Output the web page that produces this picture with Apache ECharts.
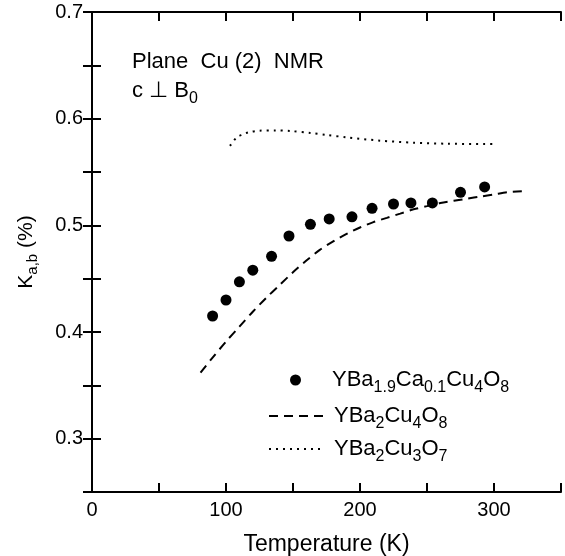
<!DOCTYPE html>
<html>
<head>
<meta charset="utf-8">
<script src="https://cdn.jsdelivr.net/npm/echarts@6/dist/echarts.min.js"></script>
<style>
html,body{margin:0;padding:0;background:#fff;}
#chart{width:565px;height:556px;}
</style>
</head>
<body>
<div id="chart"></div>
<script>
// ---- Data ----
var xTicks = [0, 100, 200, 300];
var yTicks = [0.3, 0.4, 0.5, 0.6, 0.7];

// YBa1.9Ca0.1Cu4O8 (filled circles)
var caT = [90, 100, 110, 120, 134, 147, 163, 177, 194, 209, 225, 238, 254, 275, 293];
var caK = [0.415, 0.430, 0.447, 0.458, 0.471, 0.490, 0.501, 0.506, 0.508, 0.516, 0.520, 0.521, 0.521, 0.531, 0.536];

// YBa2Cu4O8 (dashed)
var y124T = [81, 90, 100, 110, 120, 130, 140, 150, 160, 170, 180, 190, 200, 210, 220, 230, 240, 250, 260, 270, 280, 290, 300, 310, 322];
var y124K = [0.362, 0.376, 0.391, 0.405, 0.419, 0.432, 0.444, 0.456, 0.467, 0.477, 0.485, 0.492, 0.498, 0.503, 0.507, 0.511, 0.515, 0.518, 0.521, 0.523, 0.525, 0.527, 0.529, 0.531, 0.532];

// YBa2Cu3O7 (dotted)
var y123T = [103, 108, 112, 117, 125, 137, 148, 163, 175, 190, 215, 240, 265, 302];
var y123K = [0.5745, 0.5825, 0.585, 0.5872, 0.5887, 0.589, 0.5884, 0.5866, 0.5848, 0.5825, 0.5794, 0.5775, 0.5765, 0.5762];

var names = ['YBa1.9Ca0.1Cu4O8', 'YBa2Cu4O8', 'YBa2Cu3O7'];
var richNames = {
  'YBa1.9Ca0.1Cu4O8': '{m|YBa}{s|1.9}{m|Ca}{s|0.1}{m|Cu}{s|4}{m|O}{s|8}',
  'YBa2Cu4O8': '{m|YBa}{s|2}{m|Cu}{s|4}{m|O}{s|8}',
  'YBa2Cu3O7': '{m|YBa}{s|2}{m|Cu}{s|3}{m|O}{s|7}'
};

function zip(a, b) { return a.map(function (v, i) { return [v, b[i]]; }); }

var FONT = 'Liberation Sans';
var rich = {
  m: { fontSize: 22, fontFamily: FONT, color: '#000', lineHeight: 24, verticalAlign: 'middle' },
  s: { fontSize: 16, fontFamily: FONT, color: '#000', lineHeight: 14, verticalAlign: 'top', padding: [12, 0, 0, 0] }
};

function legendAt(name, centerY, extra) {
  return Object.assign({
    data: [name],
    orient: 'vertical',
    left: 268,
    top: centerY - 11,
    padding: 0,
    itemWidth: 54,
    itemHeight: 11,
    selectedMode: false,
    formatter: function (n) { return richNames[n]; },
    textStyle: { rich: rich, padding: [0, 0, 0, 6] }
  }, extra || {});
}

var chart = echarts.init(document.getElementById('chart'));
var axisLine = { lineStyle: { color: '#000', width: 2 } };
var axisTick = { inside: true, length: 9, lineStyle: { color: '#000', width: 2 } };

chart.setOption({
  animation: false,
  backgroundColor: '#fff',
  grid: { left: 92, top: 12, right: 4, bottom: 64, containLabel: false, outerBoundsMode: 'none' },
  xAxis: [{
    type: 'value', min: 0, max: 350, interval: 50,
    axisLine: axisLine, axisTick: axisTick, splitLine: { show: false },
    axisLabel: {
      color: '#000', fontSize: 20, fontFamily: FONT, margin: 8,
      formatter: function (v) { return xTicks.indexOf(Math.round(v)) >= 0 ? String(Math.round(v)) : ''; }
    },
    name: 'Temperature (K)', nameLocation: 'middle', nameGap: 41,
    nameTextStyle: { color: '#000', fontSize: 23, fontFamily: FONT }
  }, {
    type: 'value', position: 'top', min: 0, max: 350, interval: 50,
    axisLine: axisLine, axisTick: axisTick, splitLine: { show: false }, axisLabel: { show: false }
  }],
  yAxis: [{
    type: 'value', min: 0.25, max: 0.7, interval: 0.05,
    axisLine: axisLine, axisTick: axisTick, splitLine: { show: false },
    axisLabel: {
      color: '#000', fontSize: 20, fontFamily: FONT, margin: 9,
      formatter: function (v) {
        var r = Math.round(v * 100) / 100;
        for (var i = 0; i < yTicks.length; i++) if (Math.abs(yTicks[i] - r) < 1e-6) return yTicks[i].toFixed(1);
        return '';
      }
    },
    name: '{m|K}{s|a,b}{m| (%)}', nameLocation: 'middle', nameGap: 54, nameRotate: 90,
    nameTextStyle: {
      rich: {
        m: { fontSize: 21, fontFamily: FONT, color: '#000', lineHeight: 24, verticalAlign: 'middle' },
        s: { fontSize: 15, fontFamily: FONT, color: '#000', lineHeight: 14, verticalAlign: 'top', padding: [11, 0, 0, 0] }
      }
    }
  }, {
    type: 'value', position: 'right', min: 0.25, max: 0.7, interval: 0.05,
    axisLine: axisLine, axisTick: axisTick, splitLine: { show: false }, axisLabel: { show: false }
  }],
  legend: [
    legendAt(names[0], 379, { left: 290, itemWidth: 11, textStyle: { rich: rich, padding: [0, 0, 0, 26] } }),
    legendAt(names[1], 415, { itemStyle: { opacity: 0 } }),
    legendAt(names[2], 448, { itemStyle: { opacity: 0 } })
  ],
  graphic: [
    { type: 'text', x: 132, y: 62, style: { text: 'Plane  Cu (2)  NMR', fill: '#000', font: '22px "' + FONT + '"', verticalAlign: 'middle' } },
    { type: 'text', x: 132, y: 91, style: {
        text: '{m|c ⊥ B}{s|0}', verticalAlign: 'middle',
        rich: {
          m: { fontSize: 22, fontFamily: FONT, fill: '#000', lineHeight: 24, verticalAlign: 'middle' },
          s: { fontSize: 16, fontFamily: FONT, fill: '#000', lineHeight: 14, verticalAlign: 'top', padding: [12, 0, 0, 0] }
        }
    } }
  ],
  series: [
    {
      name: names[0], type: 'scatter', xAxisIndex: 0, yAxisIndex: 0,
      data: zip(caT, caK), symbol: 'circle', symbolSize: 11,
      itemStyle: { color: '#000', opacity: 1 }
    },
    {
      name: names[1], type: 'line', xAxisIndex: 0, yAxisIndex: 0,
      data: zip(y124T, y124K), smooth: 0.3, showSymbol: false, symbol: 'none',
      lineStyle: { color: '#000', width: 2, type: [9, 6] }, itemStyle: { color: '#000' }
    },
    {
      name: names[2], type: 'line', xAxisIndex: 0, yAxisIndex: 0,
      data: zip(y123T, y123K), smooth: 0.3, showSymbol: false, symbol: 'none',
      lineStyle: { color: '#000', width: 2, type: [2, 5] }, itemStyle: { color: '#000' }
    }
  ]
});
</script>
</body>
</html>
